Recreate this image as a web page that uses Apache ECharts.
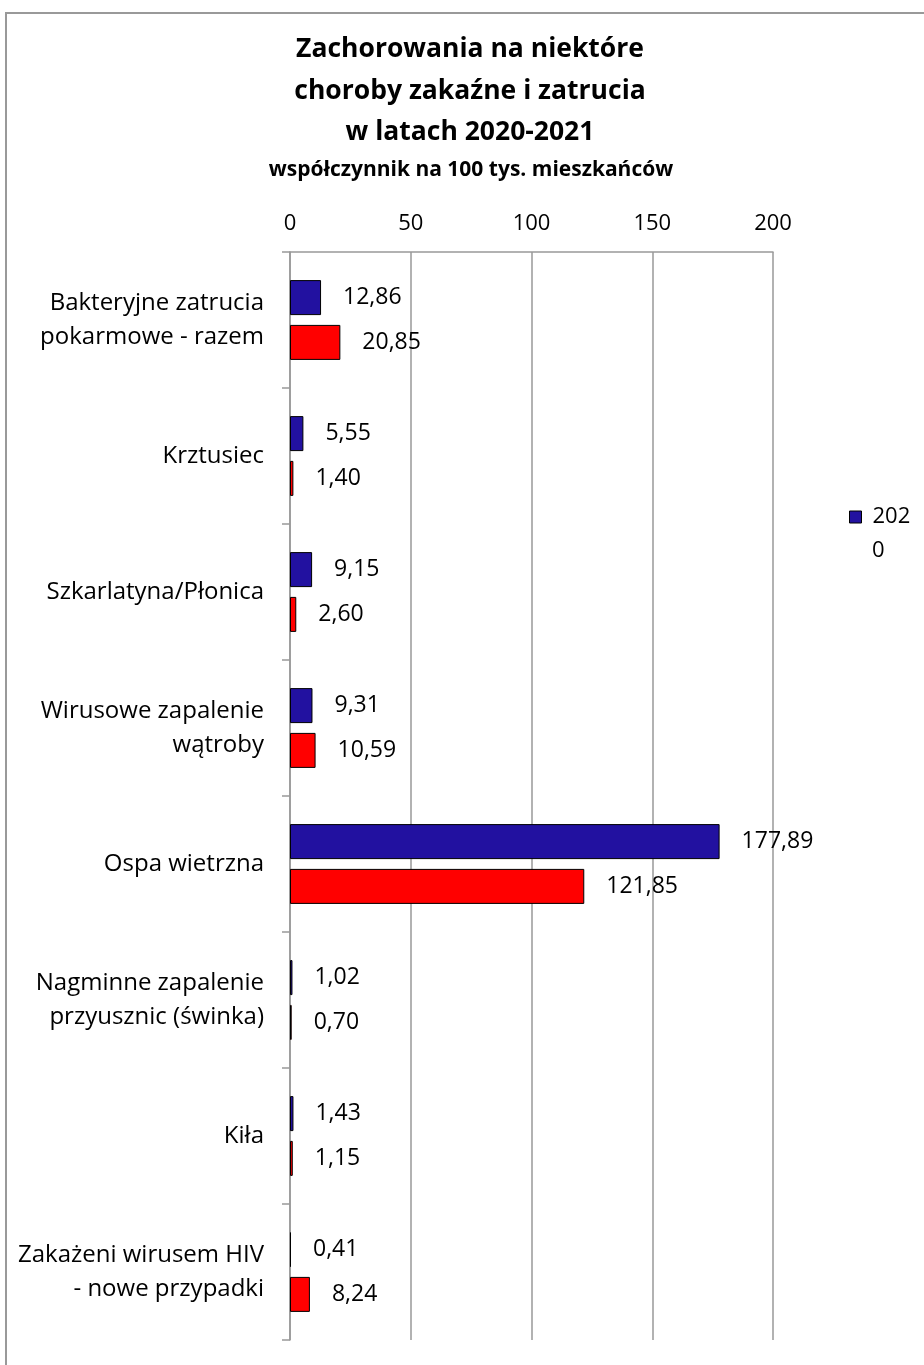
<!DOCTYPE html>
<html>
<head>
<meta charset="utf-8">
<script src="https://cdn.jsdelivr.net/npm/echarts@6/dist/echarts.min.js"></script>
<style>
  html, body { margin: 0; padding: 0; background: #fff; }
  #chart { width: 924px; height: 1365px; }
</style>
</head>
<body>
<div id="chart"></div>
<script>
// Categories (top to bottom)
const categories = [
  'Bakteryjne zatrucia\npokarmowe - razem',
  'Krztusiec',
  'Szkarlatyna/Płonica',
  'Wirusowe zapalenie\nwątroby',
  'Ospa wietrzna',
  'Nagminne zapalenie\nprzyusznic (świnka)',
  'Kiła',
  'Zakażeni wirusem HIV\n- nowe przypadki'
];
// Rates per 100k inhabitants
const values2020 = [12.86, 5.55, 9.15, 9.31, 177.89, 1.02, 1.43, 0.41];
const values2021 = [20.85, 1.40, 2.60, 10.59, 121.85, 0.70, 1.15, 8.24];
const valueTicks = [0, 50, 100, 150, 200];

const FONT = '"Open Sans", "Noto Sans", sans-serif';
const fmt = p => p.value.toFixed(2).replace('.', ',');

const chart = echarts.init(document.getElementById('chart'));
chart.setOption({
  animation: false,
  textStyle: { fontFamily: FONT },
  title: [
    {
      text: 'Zachorowania na niektóre\nchoroby zakaźne i zatrucia\nw latach 2020-2021',
      left: 465, top: 24, textAlign: 'center',
      textStyle: { fontFamily: FONT, fontSize: 26.5, fontWeight: 'bold', color: '#000', lineHeight: 41.5 }
    },
    {
      text: 'współczynnik na 100 tys. mieszkańców',
      left: 466, top: 155, textAlign: 'center',
      textStyle: { fontFamily: FONT, fontSize: 21, fontWeight: 'bold', color: '#000' }
    }
  ],
  graphic: [
    {
      type: 'rect', silent: true, z: -1,
      shape: { x: 6, y: 13, width: 1000, height: 1500 },
      style: { fill: 'none', stroke: '#999', lineWidth: 2 }
    },
    {
      // second line of the wrapped legend label
      type: 'text', left: 872, top: 540, silent: true,
      style: { text: '0', fontFamily: FONT, fontSize: 22, fill: '#000' }
    }
  ],
  legend: {
    data: ['2020'],
    left: 849, top: 506,
    padding: 0,
    orient: 'vertical',
    itemWidth: 12, itemHeight: 12, itemGap: 8,
    icon: 'rect',
    formatter: () => '202',
    textStyle: { fontFamily: FONT, fontSize: 22, color: '#000', padding: [0, 0, 0, 6] },
    itemStyle: { borderColor: '#000', borderWidth: 1 }
  },
  grid: { left: 290, top: 252, width: 483, height: 1088, containLabel: false },
  xAxis: {
    type: 'value',
    position: 'top',
    min: valueTicks[0], max: valueTicks[valueTicks.length - 1], interval: 50,
    axisLine: { show: true, lineStyle: { color: '#999', width: 1.5 } },
    axisTick: { show: false },
    axisLabel: { fontFamily: FONT, fontSize: 22, color: '#000', margin: 17 },
    splitLine: { show: true, lineStyle: { color: '#999', width: 1.5 } }
  },
  yAxis: {
    type: 'category',
    inverse: true,
    data: categories,
    axisLine: { show: true, lineStyle: { color: '#999', width: 1.5 } },
    axisTick: { show: true, length: 8, interval: 0, lineStyle: { color: '#999', width: 1.5 } },
    axisLabel: { fontFamily: FONT, fontSize: 24, color: '#000', margin: 26, lineHeight: 34, align: 'right', interval: 0 }
  },
  series: [
    {
      name: '2020', type: 'bar', data: values2020,
      barWidth: 35, barGap: '28%',
      itemStyle: { color: '#2211A0', borderColor: '#000', borderWidth: 1 },
      label: { show: true, position: 'right', distance: 22, formatter: fmt, fontFamily: FONT, fontSize: 23, color: '#000' }
    },
    {
      name: '2021', type: 'bar', data: values2021,
      barWidth: 35,
      itemStyle: { color: '#FF0000', borderColor: '#000', borderWidth: 1 },
      label: { show: true, position: 'right', distance: 22, formatter: fmt, fontFamily: FONT, fontSize: 23, color: '#000' }
    }
  ]
});
</script>
</body>
</html>
